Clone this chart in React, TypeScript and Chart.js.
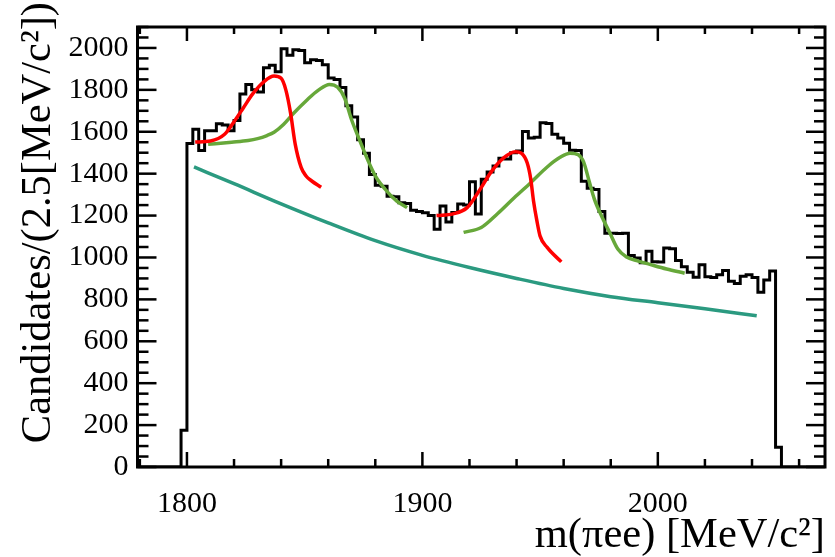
import React, { useEffect, useRef } from "react";
import { Chart, registerables } from "chart.js";

Chart.register(...registerables);

// ---- axis ranges, titles and tick labels ----
const X_MIN = 1779;
const X_MAX = 2071;
const Y_MIN = 0;
const Y_MAX = 2100;
const xTickValues = [1800, 1900, 2000];
const yTickValues = [0, 200, 400, 600, 800, 1000, 1200, 1400, 1600, 1800, 2000];
const X_MINOR_STEP = 20;
const X_MAJOR_STEP = 100;
const Y_MINOR_STEP = 50;
const Y_MAJOR_STEP = 200;
const X_TITLE = "m(πee) [MeV/c²]";
const Y_TITLE = "Candidates/(2.5[MeV/c²])";

// ---- histogram: candidates per 2.5 MeV/c^2 bin, first bin starts at 1797.5 ----
const histStart = 1797.5;
const binWidth = 2.5;
const counts = [
  175,
  1544, 1612, 1510, 1605, 1605, 1638, 1632, 1605, 1654, 1780,
  1826, 1800, 1790, 1905, 1918, 1887, 1996, 1965, 1992, 1988,
  1929, 1944, 1940, 1920, 1857, 1850, 1811, 1724, 1670, 1562,
  1498, 1396, 1345, 1340, 1292, 1290, 1261, 1258, 1225, 1220,
  1213, 1200, 1135, 1246, 1169, 1215, 1255, 1250, 1362, 1208,
  1373, 1408, 1436, 1473, 1470, 1500, 1508, 1601, 1570, 1574,
  1643, 1640, 1588, 1570, 1545, 1512, 1510, 1364, 1330, 1325,
  1219, 1116, 1116, 1114, 1116, 1010, 998, 975, 1030, 980,
  978, 1045, 1042, 986, 956, 929, 906, 965, 908, 905,
  918, 938, 887, 876, 910, 918, 905, 834, 892, 936,
  94,
];

// ---- combinatorial background (teal) ----
const bkgX = [1803, 1820, 1840, 1860, 1880, 1900, 1920, 1940, 1960, 1980, 2000, 2020, 2042];
const bkgY = [1432, 1352, 1256, 1165, 1080, 1010, 952, 900, 852, 813, 784, 755, 722];

// ---- signal-like components (red) ----
const sig1X = [1803.5, 1810, 1816, 1820, 1824, 1828, 1833, 1837, 1840, 1842, 1844, 1846, 1848.5, 1850.5, 1853, 1857];
const sig1Y = [1551, 1556, 1588, 1648, 1715, 1782, 1842, 1866, 1855, 1800, 1690, 1540, 1430, 1390, 1365, 1335];
const sig2X = [1906, 1913, 1919, 1924.5, 1929, 1934.5, 1939.5, 1942, 1944.5, 1946, 1947.2, 1948.6, 1950, 1953, 1959];
const sig2Y = [1200, 1208, 1238, 1325, 1405, 1475, 1505, 1498, 1452, 1376, 1270, 1177, 1102, 1048, 979];

// ---- peaking components (green) ----
const refl1X = [1809, 1812, 1819, 1826, 1830, 1834, 1837, 1841, 1845, 1851, 1856, 1860.5, 1864, 1867, 1870, 1873.5, 1877, 1880, 1884, 1889, 1893.5];
const refl1Y = [1540, 1543, 1550, 1558, 1567, 1582, 1598, 1635, 1685, 1752, 1800, 1826, 1812, 1760, 1655, 1555, 1460, 1390, 1328, 1270, 1238];
const refl2X = [1917.5, 1925, 1932, 1939, 1946, 1953, 1958.5, 1962.7, 1966.2, 1968.5, 1970.8, 1973, 1976, 1979.5, 1983, 1986.7, 1991, 1996.6, 2003.7, 2011.4];
const refl2Y = [1120, 1143, 1210, 1285, 1357, 1432, 1478, 1498, 1490, 1455, 1365, 1280, 1200, 1120, 1040, 1002, 985, 967, 945, 925];

const SERIF = "'Liberation Serif', 'DejaVu Serif', serif";
const RED = "#ff0000";
const GREEN = "#67a83a";
const TEAL = "#2b9a80";

function pts(xs: number[], ys: number[]) {
  return xs.map((x, i) => ({ x, y: ys[i] }));
}

const frameTicks = {
  id: "frameTicks",
  afterDraw(chart: any) {
    const ctx = chart.ctx;
    const a = chart.chartArea;
    const xs = chart.scales["x"];
    const ys = chart.scales["y"];
    ctx.save();
    ctx.strokeStyle = "#000000";
    ctx.lineWidth = 2.5;
    ctx.setLineDash([]);
    const seg = (x1: number, y1: number, x2: number, y2: number) => {
      ctx.beginPath();
      ctx.moveTo(x1, y1);
      ctx.lineTo(x2, y2);
      ctx.stroke();
    };
    const nx = Math.round((X_MAX - X_MIN) / X_MINOR_STEP) + 2;
    const x0 = Math.ceil(X_MIN / X_MINOR_STEP) * X_MINOR_STEP;
    for (let i = 0; i < nx; i++) {
      const v = x0 + i * X_MINOR_STEP;
      if (v > X_MAX) break;
      const px = xs.getPixelForValue(v);
      const major = v % X_MAJOR_STEP === 0;
      seg(px, a.bottom, px, a.bottom - (major ? 15 : 8));
      seg(px, a.top, px, a.top + (major ? 14 : 7));
    }
    const ny = Math.round((Y_MAX - Y_MIN) / Y_MINOR_STEP) + 1;
    for (let i = 0; i < ny; i++) {
      const v = Y_MIN + i * Y_MINOR_STEP;
      if (v > Y_MAX) break;
      const py = ys.getPixelForValue(v);
      const l = v % Y_MAJOR_STEP === 0 ? 19 : 11;
      seg(a.left, py, a.left + l, py);
      seg(a.right, py, a.right - l, py);
    }
    ctx.lineWidth = 3;
    ctx.strokeRect(a.left, a.top, a.right - a.left, a.bottom - a.top);

    // rotated y-axis title, its end flush with the top of the picture
    ctx.fillStyle = "#000";
    ctx.font = `42.5px ${SERIF}`;
    ctx.translate(39, 2);
    ctx.rotate(-Math.PI / 2);
    ctx.textAlign = "right";
    ctx.textBaseline = "middle";
    ctx.fillText(Y_TITLE, 0, 0);
    ctx.restore();
  },
};

export default function App() {
  const ref = useRef<HTMLCanvasElement>(null);

  useEffect(() => {
    document.body.style.margin = "0";
    const canvas = ref.current;
    if (!canvas) return;

    const histPts = [
      { x: X_MIN, y: 0 },
      ...counts.map((c, i) => ({ x: histStart + i * binWidth, y: c })),
      { x: histStart + counts.length * binWidth, y: 0 },
      { x: X_MAX, y: 0 },
    ];

    const curve = (data: any, color: string) => ({
      data,
      borderColor: color,
      backgroundColor: color,
      borderWidth: 3.5,
      pointRadius: 0,
      cubicInterpolationMode: "monotone" as const,
      fill: false,
    });

    const chart = new Chart(canvas, {
      type: "line",
      data: {
        datasets: [
          curve(pts(sig1X, sig1Y), RED),
          curve(pts(sig2X, sig2Y), RED),
          curve(pts(refl1X, refl1Y), GREEN),
          curve(pts(refl2X, refl2Y), GREEN),
          curve(pts(bkgX, bkgY), TEAL),
          {
            data: histPts,
            borderColor: "#000",
            borderWidth: 3,
            pointRadius: 0,
            stepped: "before",
            fill: false,
          },
        ],
      },
      options: {
        responsive: false,
        animation: false,
        devicePixelRatio: 1,
        layout: { padding: { left: 0, top: 8, right: 10, bottom: 0 } },
        plugins: { legend: { display: false }, tooltip: { enabled: false } },
        scales: {
          x: {
            type: "linear",
            min: X_MIN,
            max: X_MAX,
            grid: { display: false, drawTicks: false, tickLength: 0 },
            border: { display: false },
            afterBuildTicks: (s: any) => {
              s.ticks = xTickValues.map((v) => ({ value: v }));
            },
            afterFit: (s: any) => {
              s.height = 90;
            },
            ticks: {
              color: "#000",
              font: { family: SERIF, size: 30 },
              padding: 19,
              maxRotation: 0,
              autoSkip: false,
              callback: (v: any) => String(v),
            },
            title: {
              display: true,
              text: X_TITLE,
              align: "end",
              color: "#000",
              font: { family: SERIF, size: 42.5, lineHeight: 1 },
              padding: 0,
            },
          },
          y: {
            type: "linear",
            min: Y_MIN,
            max: Y_MAX,
            grid: { display: false, drawTicks: false, tickLength: 0 },
            border: { display: false },
            afterBuildTicks: (s: any) => {
              s.ticks = yTickValues.map((v) => ({ value: v }));
            },
            afterFit: (s: any) => {
              s.width = 137.5;
            },
            ticks: {
              color: "#000",
              font: { family: SERIF, size: 30 },
              padding: 9,
              autoSkip: false,
              callback: (v: any) => String(v),
            },
            title: { display: false },
          },
        },
      },
      plugins: [frameTicks],
    });

    return () => chart.destroy();
  }, []);

  return (
    <div style={{ width: 835, height: 557 }}>
      <canvas ref={ref} width={835} height={557} style={{ display: "block" }} />
    </div>
  );
}
